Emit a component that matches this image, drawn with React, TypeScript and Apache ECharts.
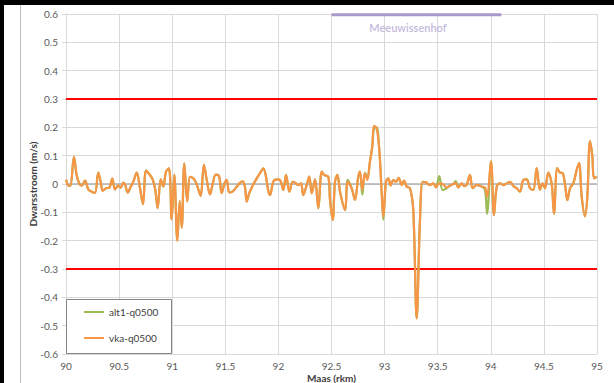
import React, { useEffect, useRef } from "react";
import * as echarts from "echarts";

const rkm = [
  90.0, 90.02, 90.04, 90.075, 90.1, 90.125, 90.148, 90.179, 90.21, 90.242, 90.273, 90.304, 90.327, 90.346, 90.377,
  90.408, 90.436, 90.461, 90.492, 90.515, 90.54, 90.558, 90.581, 90.609, 90.634, 90.666, 90.697, 90.725, 90.753,
  90.784, 90.816, 90.841, 90.863, 90.892, 90.916, 90.942, 90.97, 90.995, 91.02, 91.048, 91.071, 91.09, 91.114,
  91.142, 91.168, 91.199, 91.224, 91.246, 91.268, 91.299, 91.325, 91.356, 91.381, 91.41, 91.441, 91.466, 91.491,
  91.513, 91.538, 91.57, 91.607, 91.638, 91.664, 91.685, 91.702, 91.723, 91.754, 91.796, 91.836, 91.858, 91.88,
  91.905, 91.921, 91.952, 91.984, 92.015, 92.046, 92.072, 92.103, 92.135, 92.156, 92.187, 92.213, 92.234, 92.266,
  92.291, 92.314, 92.345, 92.376, 92.408, 92.429, 92.47, 92.486, 92.511, 92.533, 92.555, 92.58, 92.627, 92.653,
  92.69, 92.721, 92.752, 92.768, 92.79, 92.815, 92.837, 92.862, 92.884, 92.9, 92.925, 92.95, 92.973, 92.988,
  93.013, 93.035, 93.057, 93.082, 93.107, 93.133, 93.161, 93.183, 93.208, 93.239, 93.27, 93.302, 93.333, 93.359,
  93.39, 93.427, 93.459, 93.484, 93.515, 93.547, 93.585, 93.616, 93.647, 93.669, 93.694, 93.726, 93.75, 93.773,
  93.804, 93.829, 93.867, 93.914, 93.945, 93.965, 94.002, 94.03, 94.056, 94.087, 94.118, 94.15, 94.181, 94.212,
  94.244, 94.275, 94.306, 94.338, 94.369, 94.4, 94.432, 94.463, 94.488, 94.51, 94.541, 94.573, 94.595, 94.626,
  94.652, 94.677, 94.699, 94.721, 94.746, 94.777, 94.809, 94.831, 94.856, 94.887, 94.909, 94.934, 94.956, 94.972,
  95.0,
];

const vka = [
  0.015, -0.005, -0.007, 0.096, 0.032, 0.002, -0.006, 0.012, -0.019, -0.027, -0.031, 0.04, 0.008, -0.024, -0.015,
  -0.013, 0.019, -0.019, -0.006, -0.013, 0.005, -0.004, -0.03, -0.01, 0.008, 0.04, -0.015, -0.071, 0.047,
  0.035, 0.016, -0.021, -0.086, 0.016, -0.009, 0.044, 0.055, -0.125, 0.033, -0.2, -0.06, -0.154, 0.073,
  -0.061, 0.025, 0.02, 0.005, -0.019, -0.042, 0.068, 0.015, -0.037, 0.0, 0.033, 0.028, -0.032, 0.0,
  0.015, -0.03, -0.026, -0.01, 0.004, 0.009, -0.01, -0.062, -0.035, -0.009, 0.02, 0.044, 0.055, 0.032,
  -0.025, -0.039, 0.008, 0.016, 0.014, -0.021, 0.032, -0.027, 0.008, 0.005, -0.004, 0.002, -0.039, -0.004,
  0.026, -0.033, 0.016, -0.086, 0.044, 0.032, 0.026, -0.056, -0.127, 0.008, 0.032, -0.027, -0.092, 0.008,
  -0.015, -0.056, 0.026, 0.044, -0.021, 0.038, 0.014, 0.079, 0.132, 0.205, 0.197, 0.12, -0.033, -0.115,
  0.008, 0.02, -0.005, 0.014, 0.008, 0.022, -0.004, 0.012, -0.009, -0.015, -0.092, -0.474, -0.127, 0.008,
  0.006, -0.004, 0.002, -0.012, 0.002, 0.0, -0.012, -0.006, 0.0, 0.004, -0.012, 0.002, -0.008, -0.003,
  0.032, -0.015, -0.003, -0.009, -0.012, -0.045, 0.08, -0.11, -0.009, 0.002, -0.004, 0.002, 0.008, -0.007,
  -0.015, -0.027, 0.014, 0.016, -0.015, -0.021, 0.056, -0.021, 0.002, -0.015, 0.04, 0.002, -0.105, 0.056,
  0.04, 0.038, -0.003, -0.057, -0.015, 0.002, 0.05, 0.074, -0.045, -0.114, -0.045, 0.151, 0.098, 0.02,
  0.026,
];

const alt1 = [
  0.015, -0.005, -0.007, 0.096, 0.032, 0.002, -0.006, 0.012, -0.019, -0.027, -0.031, 0.04, 0.008, -0.024, -0.015,
  -0.013, 0.019, -0.019, -0.006, -0.013, 0.005, -0.004, -0.03, -0.01, 0.008, 0.04, -0.015, -0.071, 0.047,
  0.035, 0.016, -0.021, -0.086, 0.016, -0.009, 0.044, 0.055, -0.125, 0.033, -0.2, -0.06, -0.154, 0.073,
  -0.061, 0.025, 0.02, 0.005, -0.019, -0.042, 0.068, 0.015, -0.037, 0.0, 0.033, 0.028, -0.032, 0.0,
  0.015, -0.03, -0.026, -0.01, 0.004, 0.009, -0.01, -0.062, -0.035, -0.009, 0.02, 0.044, 0.055, 0.032,
  -0.025, -0.039, 0.008, 0.016, 0.014, -0.021, 0.032, -0.027, 0.008, 0.005, -0.004, 0.002, -0.039, -0.004,
  0.026, -0.033, 0.016, -0.086, 0.044, 0.032, 0.026, -0.056, -0.127, 0.008, 0.032, -0.027, -0.092, 0.015,
  -0.015, -0.056, 0.026, 0.044, -0.038, 0.04, 0.02, 0.079, 0.132, 0.195, 0.2, 0.12, -0.033, -0.126,
  0.008, 0.02, -0.005, 0.014, 0.008, 0.022, -0.004, 0.012, -0.009, -0.015, -0.092, -0.474, -0.127, 0.008,
  0.006, -0.004, 0.002, -0.012, 0.028, -0.022, -0.015, -0.006, 0.0, 0.01, -0.012, 0.002, -0.008, -0.003,
  0.032, -0.015, -0.003, -0.009, -0.02, -0.105, 0.08, -0.11, -0.009, 0.002, -0.004, 0.002, 0.008, -0.007,
  -0.015, -0.027, 0.014, 0.016, -0.015, -0.021, 0.056, -0.021, 0.002, -0.015, 0.04, 0.002, -0.105, 0.056,
  0.04, 0.038, -0.003, -0.057, -0.015, 0.002, 0.05, 0.074, -0.045, -0.114, -0.045, 0.151, 0.098, 0.02,
  0.026,
];

const limitUpper = [[90, 0.3], [95, 0.3]];
const limitLower = [[90, -0.3], [95, -0.3]];
const zeroLine = [[90, 0], [95, 0]];
const meeuwissenhofRange = [[92.5, 0.597], [94.1, 0.597]];
const meeuwissenhofLabel = [[93.22, 0.553]];

const FONT = "Lato, 'Open Sans', sans-serif";
const GRID = "#d9d9d9";

export default function App() {
  const ref = useRef<HTMLDivElement>(null);
  useEffect(() => {
    if (!ref.current) return;
    const chart = echarts.init(ref.current, null, { renderer: "svg" });
    const pair = (ys: number[]) => rkm.map((x, i) => [x, ys[i]]);
    chart.setOption({
      animation: false,
      backgroundColor: "#ffffff",
      textStyle: { fontFamily: FONT },
      grid: { left: 66, right: 17, top: 14, bottom: 29, containLabel: false, outerBoundsMode: "none" },
      xAxis: {
        type: "value",
        min: 90,
        max: 95,
        interval: 0.5,
        name: "Maas (rkm)",
        nameLocation: "middle",
        nameGap: 19,
        nameMoveOverlap: false,
        nameTextStyle: { fontFamily: FONT, fontWeight: "bold", fontSize: 10, color: "#404040" },
        axisLine: { show: true, lineStyle: { color: GRID } },
        axisTick: { show: true, length: 4, lineStyle: { color: GRID } },
        splitLine: { show: true, lineStyle: { color: GRID, width: 1 } },
        axisLabel: { color: "#595959", fontSize: 10, margin: 7, fontFamily: FONT },
      },
      yAxis: {
        type: "value",
        min: -0.6,
        max: 0.6,
        interval: 0.1,
        name: "Dwarsstroom (m/s)",
        nameLocation: "middle",
        nameGap: 28,
        nameMoveOverlap: false,
        nameRotate: 90,
        nameTextStyle: { fontFamily: FONT, fontWeight: "bold", fontSize: 10, color: "#404040" },
        axisLine: { show: true, lineStyle: { color: GRID } },
        axisTick: { show: true, length: 4, lineStyle: { color: GRID } },
        splitLine: { show: true, lineStyle: { color: GRID, width: 1 } },
        axisLabel: { color: "#595959", fontSize: 10, margin: 8, fontFamily: FONT },
      },
      legend: {
        data: ["alt1-q0500", "vka-q0500"],
        orient: "vertical",
        left: 84,
        top: 307,
        itemGap: 16,
        itemWidth: 20,
        itemHeight: 2,
        icon: "rect",
        padding: 0,
        z: 5,
        textStyle: { fontSize: 10, color: "#404040", fontFamily: FONT },
      },
      graphic: [
        { type: "rect", left: 0, top: 0, shape: { width: 614, height: 5 }, style: { fill: "#000" } },
        { type: "rect", left: 0, top: 0, shape: { width: 4, height: 383 }, style: { fill: "#000" } },
        { type: "line", shape: { x1: 20.5, y1: 5, x2: 20.5, y2: 383 }, style: { stroke: "#bfbfbf", lineWidth: 1 } },
        {
          type: "rect",
          z: 4,
          shape: { x: 66.5, y: 299.5, width: 105, height: 54 },
          style: { fill: "#ffffff", stroke: "#868686", lineWidth: 1 },
        },
      ],
      series: [
        {
          name: "zero",
          type: "line",
          data: zeroLine,
          symbol: "none",
          lineStyle: { color: "#b0b0b0", width: 1.5 },
          z: 1,
          silent: true,
        },
        {
          name: "upper",
          type: "line",
          data: limitUpper,
          symbol: "none",
          lineStyle: { color: "#ff0000", width: 2 },
          silent: true,
        },
        {
          name: "lower",
          type: "line",
          data: limitLower,
          symbol: "none",
          lineStyle: { color: "#ff0000", width: 2 },
          silent: true,
        },
        {
          name: "Meeuwissenhof",
          type: "line",
          data: meeuwissenhofRange,
          symbol: "none",
          lineStyle: { color: "#a898cc", width: 3 },
          silent: true,
        },
        {
          name: "MeeuwissenhofLabel",
          type: "scatter",
          data: meeuwissenhofLabel,
          symbolSize: 0,
          silent: true,
          label: {
            show: true,
            position: "inside",
            formatter: "Meeuwissenhof",
            color: "#b3a6d4",
            fontSize: 11,
            fontWeight: 600,
            fontFamily: FONT,
          },
        },
        {
          name: "alt1-q0500",
          type: "line",
          data: pair(alt1),
          symbol: "none",
          smooth: 0.35,
          color: "#9bbb59",
          lineStyle: { color: "#9bbb59", width: 2.2 },
        },
        {
          name: "vka-q0500",
          type: "line",
          data: pair(vka),
          symbol: "none",
          smooth: 0.35,
          color: "#f79646",
          lineStyle: { color: "#f79646", width: 2.2 },
        },
      ],
    });
    return () => chart.dispose();
  }, []);
  return (
    <div
      ref={ref}
      style={{ position: "fixed", left: 0, top: 0, width: 614, height: 383 }}
    />
  );
}
